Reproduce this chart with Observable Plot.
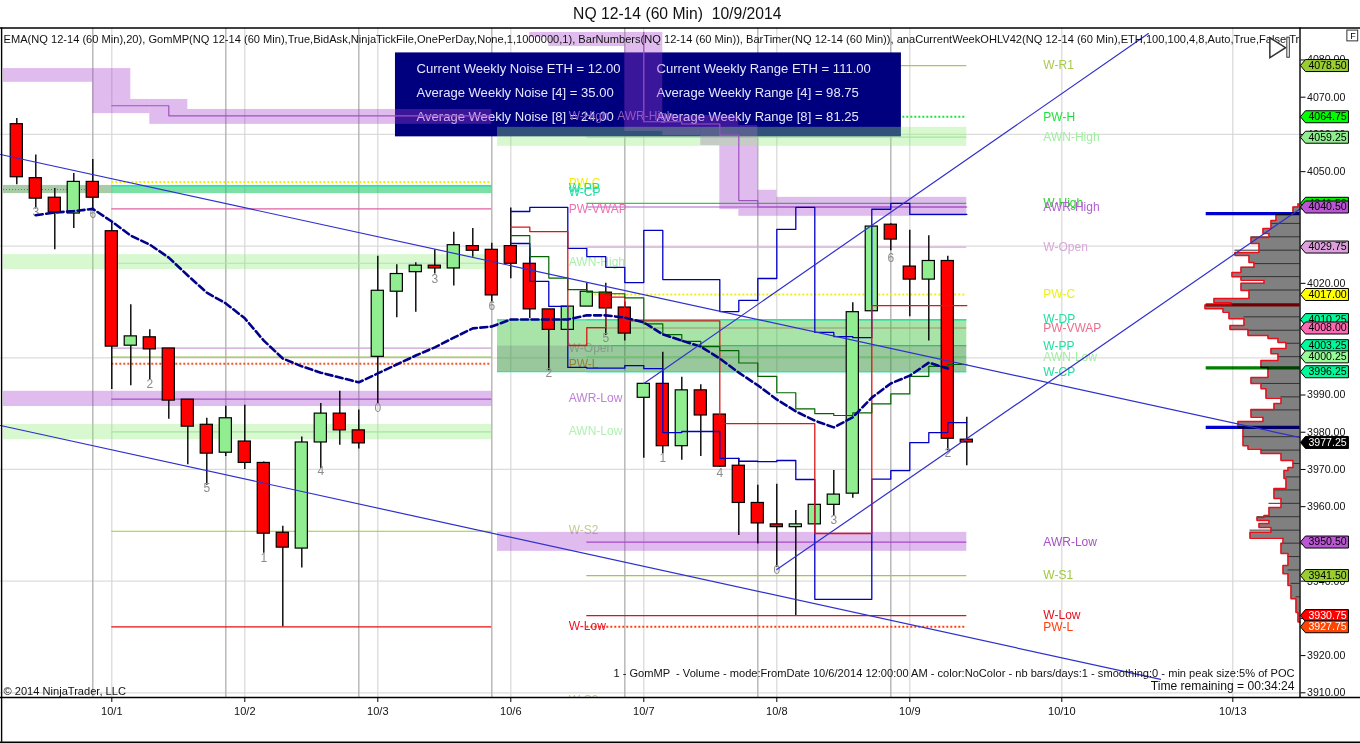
<!DOCTYPE html>
<html><head><meta charset="utf-8">
<script src="https://cdn.jsdelivr.net/npm/d3@7"></script>
<script src="https://cdn.jsdelivr.net/npm/@observablehq/plot@0.6"></script>
<style>html,body{margin:0;padding:0;background:#fff}svg{display:block}</style>
</head><body><div id="chart"></div>
<script>
// ---------- candles (60 min bars, bar index = array position)
const opens=[4062.75,4048.25,4043,4038.75,4047.25,4034,4003.25,4005.5,4002.5,3988.75,3982,3974.5,3977.5,3971.75,3953,3948.75,3977.25,3985,3980.5,4000.25,4017.75,4023,4024.75,4024,4030,4029,4030,4025.25,4013,4007.5,4013.75,4017.5,4013.5,3989.25,3993,3976.25,3991.25,3984.75,3971,3961,3955.25,3954.5,3955.25,3960.5,3963.5,4012.5,4035.75,4024.5,4021,4026,3978];
const highs=[4064.25,4054.5,4045.5,4049.5,4053.25,4036.5,4014.25,4007.5,4002.5,3988.75,3983.75,3987,3987.25,3972,3954.75,3978.75,3987.75,3991,3986,4027.25,4025,4025.5,4029,4033.75,4034.75,4030.75,4040.25,4029.5,4013,4013.75,4020,4020,4015,3993,4001.5,3994.75,3992.75,3984.75,3973,3965.75,3966,3959,3960.5,3969.75,4014.75,4035.25,4036,4034.25,4032.75,4027.25,3984];
const lows=[4046.5,4040,4029,4034.75,4040,3991.5,3992.5,3994,3983.5,3971.25,3965.75,3973.5,3970,3947.5,3927.75,3943.5,3970.25,3976.5,3975.5,3987.75,4010.75,4012.25,4022.5,4019.25,4027,4014.75,4021.25,4010.5,3996.5,4007.5,4013.75,4006,4004.5,3973,3974.25,3972.5,3973.5,3970.5,3952.25,3950,3943.75,3930.75,3955.25,3957.5,3962.25,4012.5,4028.75,4011,4004.5,3975,3971];
const closes=[4048.5,4042.75,4039,4047.25,4043,4003,4005.75,4002.25,3988.5,3981.5,3974.25,3983.75,3971.75,3952.75,3949,3977.25,3985,3980.5,3977,4018,4022.5,4024.75,4024,4030.25,4028.75,4016.75,4025.25,4013,4007.5,4013.75,4017.75,4013.25,4006.5,3993,3976.25,3991.25,3984.5,3970.75,3961,3955.5,3954.5,3955.25,3960.5,3963.25,4012.25,4035.25,4031.75,4021,4026,3978.25,3977.25];
// ---------- EMA(20), from bar 1 to bar 49
const ema=[4038.3,4039,4039.4,4040,4036.6,4032.8,4030.4,4026.9,4022.1,4017.5,4014.6,4010.6,4004.6,3999.8,3997.7,3996,3994.7,3993.4,3995.8,3998.2,4000.6,4002.8,4005.4,4007.9,4008.4,4010.3,4010.3,4010.3,4010.3,4011.4,4011.4,4010.8,4009.5,4006.3,4004.6,4003,3999.8,3996,3992.6,3988.8,3985.6,3983.1,3981.3,3984,3989.3,3993.1,3995.2,3998.7,3997.1];
// ---------- GomMP developing levels, bar 26 to bar 50
const vah=[4039.3,4040.4,4040.4,4029.4,4027.2,4024.3,4020.2,4034.2,4021,4021,4021,4012.4,4015.4,4021.3,4034.5,4040.4,4006.8,4005.7,4005.4,4039.9,4041.5,4038.5,4038.5,4038.5,4038.5];
const val=[4030.7,4020.5,4013.8,3997.4,3997.2,3997.2,3997.9,3997.1,3979.9,3980.2,3980.2,3973,3972.2,3972.1,3972.4,3967.3,3935.1,3935.1,3935.1,3967.4,3969.7,3977.2,3979.9,3982.6,3982.6];
const poc=[4035.1,4033.9,4033.9,4003.3,4008.1,4016.3,4009.9,4009.9,4009.9,4009.9,4009.9,3982.3,3982.3,3982.3,3982.3,3982.3,3952.8,3952.8,3952.8,4014,4014,4014,4014,4014,4014];
const vwapStep=[4032.8,4027.2,4021.4,4018.3,4017.6,4017.2,4016.1,4009.1,4006.2,4004.4,4003,4001.9,3998.6,3995,3990.6,3986.3,3985,3984.5,3985.2,3987.6,3990.3,3995,3997.7,3998.2,3998.2];
// ---------- bar numbers
const numberBars=[1,4,7,10,13,16,19,22,25,28,31,34,37,40,43,46,49];
const numberText=["3","6","2","5","1","4","0","3","6","2","5","1","4","0","3","6","2"];
const numberPrice=[4039.25,4038.5,3993,3965,3946.25,3969.5,3986.5,4021.25,4014,3995.75,4005.25,3973,3969,3943,3956.25,4026.75,3974.25];
// ---------- trend lines: [bar, price, bar, price]
const trendLines=[[-0.858,4054.6,67.51,3978.6],[-0.858,3981.8,60.2,3913.6],[40,3943.1,67.51,4039.9],[33,3993.1,59.56,4087.1]];
// ---------- axes
const priceTicks=[3910,3920,3930,3940,3950,3960,3970,3980,3990,4000,4010,4020,4030,4040,4050,4060,4070,4080];
const priceGrid=[3910,3940,3970,4000,4030,4060];
const dateBars=[5,12,19,26,33,40,47,55,64];
const dateLabels=["10/1","10/2","10/3","10/6","10/7","10/8","10/9","10/10","10/13"];
const sessionBars=[4,11,18,25,32,39,46];
// ---------- shaded zones [bar1, bar2, priceTop, priceBottom]
const purpleZones=[[-0.7,4,4077.7,4074],[4,6,4077.7,4069.4],[4,7,4069.4,4065.6],[7,9,4069.4,4066.7],[7,25,4066.7,4062.7],[27,28,4087.4,4086],[28,32,4087.4,4083.6],[32,34,4087.4,4060.8],[34,36,4065.1,4059.7],[36,37,4065.1,4057],[37,38,4065.1,4039.8],[38,39,4062.4,4038],[39,40,4045,4038],[40,50,4043.1,4038],[-0.7,25,3991,3986.9],[25.3,50,3953.1,3948]];
const paleZones=[[-0.7,25,4027.7,4023.7],[-0.7,25,3982.1,3978],[25.3,50,4061.9,4056.8]];
const noiseUpper=[[25.3,50,4010.2,4003.2]];
const noiseLower=[[25.3,50,4003.2,3996.3]];
const priorGrey=[[-0.7,5,4046.3,4044.1]];
const priorTeal=[[5,25,4046.3,4044.1]];
// ---------- AWR stepped lines, [bar, price]
const awrFirstBars=[5,8,8,25];
const awrFirstPrice=[4067.7,4067.7,4065,4065];
const awrSecondBars=[33,33,35,35,37,37,38,38,39,39,50];
const awrSecondPrice=[4087.4,4063.4,4063.4,4062.8,4062.8,4059.8,4059.8,4042.2,4042.2,4040.5,4040.5];
// ---------- first-week levels (bars 5..25)
const w1Levels=[4047.2,4046.2,4040,4025.4,4002.6,4000.2,3998.4,3988.9,3980.1,3953.4,3927.7];
const w1Colors=["#f4f000","#20d8c0","#e060a0","#a8e8a8","#c8a0d0","#a0c050","#ff5020","#a050c0","#a0e8a0","#9acd32","#e01010"];
const w1Dotted=[true,false,false,false,false,false,true,false,false,false,false];
// ---------- current-week levels and right-hand labels (bars 30..50)
const w2Names=["W-R1","PW-H","AWN-High","W-High","AWR-High","W-Open","PW-C","W-DP","PW-VWAP","W-PP","AWN-Low","W-CP","AWR-Low","W-S1","W-Low","PW-L"];
const w2Levels=[4078.5,4064.75,4059.25,4041.5,4040.5,4029.75,4017,4010.25,4008,4003.25,4000.25,3996.25,3950.5,3941.5,3930.75,3927.75];
const w2Colors=["#a8c850","#20e040","#a0eea0","#30d030","#b060d0","#d8a8d8","#f0f010","#20e0a0","#e87090","#20e0a0","#a0eea0","#20e0a0","#a850c8","#a0c840","#e01020","#ff4010"];
const w2Dotted=[false,true,false,false,false,false,true,false,false,false,false,false,false,false,false,true];
// ---------- mid-chart labels
const midNames=["PW-C","W-PP","W-CP","PW-VWAP","W-High","AWN-High","W-Open","PW-L","AWR-Low","AWN-Low","W-S2","W-Low","W-S3"];
const midPrices=[4046.8,4045.7,4044.4,4039.8,4064.8,4025.6,4002.5,3998.2,3989.1,3980.2,3953.6,3927.8,3908];
const midColors=["#f0f010","#20e0a0","#20e0a0","#f070b0","#9060c0","#a8f0a8","#d8a8d8","#ff7020","#c080d8","#b0f0b0","#c0cc90","#f01020","#c0cc90"];
// ---------- price tags
const tagPrices=[4078.5,4064.75,4059.25,4041.5,4040.5,4029.75,4017,4010.25,4008,4003.25,4000.25,3996.25,3977.25,3950.5,3941.5,3930.75,3927.75];
const tagColors=["#9acd32","#00ff00","#90ee90","#00ee00","#ba55d3","#dda0dd","#ffff00","#00fa9a","#ff69b4","#00fa9a","#98fb98","#00fa9a","#000000","#ba55d3","#9acd32","#ff0000","#ff4500"];
const tagInk=["#000","#000","#000","#000","#000","#000","#000","#000","#000","#000","#000","#000","#fff","#000","#000","#fff","#fff"];
// ---------- volume profile
const profilePrice=[4041.4,4040.5,4038.5,4036.9,4034.7,4033.4,4032.3,4030.7,4028.3,4027.5,4025.6,4024.3,4022.9,4021.8,4020.8,4020,4018.1,4015.9,4014.8,4014.2,4013.2,4012.2,4010.5,4008.7,4007.6,4006,4005.2,4004.1,4002.5,4001.1,3999.3,3997.4,3994.7,3993.1,3991.7,3989.1,3987.7,3986.1,3984,3982.9,3981.3,3978.6,3976.4,3975.4,3974.3,3972.4,3970.5,3969.7,3967.6,3964.9,3962.2,3959.8,3957.6,3957.1,3956.3,3955.5,3954.4,3953.1,3951.5,3950.1,3947.4,3944.2,3942,3938.8,3935.3,3931.6,3929];
const profileVolume=[2,7,24,29,37,31,49,41,65,51,46,59,68,59,36,59,51,86,69,95,77,71,56,70,52,32,22,14,29,22,39,32,49,39,34,19,26,49,37,62,57,57,52,39,19,7,12,16,14,26,19,31,36,43,31,41,29,50,17,19,12,17,12,9,4,2,0];
const profileStripes=[4036.1,4032.5,4028.9,4025.3,4021.8,4018.2,4011,4007.4,4003.9,4000.3,3993.1,3989.5,3986,3978.8,3975.2,3971.6,3968,3964.5,3960.9,3957.3,3953.7,3950.2,3946.6,3943,3939.4,3935.8];
const peakPrices=[4038.7,4014.2,3997.3,3981.3];
const peakColors=["#0000d0","#e00000","#008000","#0000d0"];
// ---------- texts
const boxLeft=["Current Weekly Noise ETH = 12.00","Average Weekly Noise [4] = 35.00","Average Weekly Noise [8] = 24.00"];
const boxRight=["Current Weekly Range ETH = 111.00","Average Weekly Range [4] = 98.75","Average Weekly Range [8] = 81.25"];
const boxPrices=[4077.6,4071.2,4064.8];
const titleText="NQ 12-14 (60 Min)  10/9/2014";
const indicatorText="EMA(NQ 12-14 (60 Min),20), GomMP(NQ 12-14 (60 Min),True,BidAsk,NinjaTickFile,OnePerDay,None,1,1000000,1), BarNumbers(NQ 12-14 (60 Min)), BarTimer(NQ 12-14 (60 Min)), anaCurrentWeekOHLV42(NQ 12-14 (60 Min),ETH,100,100,4,8,Auto,True,False,Tr";
const footerText="1 - GomMP  - Volume - mode:FromDate 10/6/2014 12:00:00 AM - color:NoColor - nb bars/days:1 - smoothing:0 - min peak size:5% of POC";
const timerText="Time remaining = 00:34:24";

// ---------- tables built from the arrays
const bars=opens.map((o,i)=>({i,o,h:highs[i],l:lows[i],c:closes[i]}));
const seq=(a,s)=>a.map((v,k)=>({b:s+k,v}));
const zone=z=>({x1:z[0],x2:z[1],y1:z[2],y2:z[3]});
const axisBar=67.5368, volPerBar=19;
const prof=profilePrice.map((p,k)=>({p,x:axisBar-profileVolume[k]/volPerBar}));
const profileEdge=p=>{let best=prof[0];for(const d of prof)if(Math.abs(d.p-p)<Math.abs(best.p-p))best=d;return best.x;};
const FONT="'Liberation Sans',Arial,sans-serif";
const tagSymbol={draw(c){c.moveTo(0,0);c.lineTo(5,-6);c.lineTo(48,-6);c.lineTo(48,6);c.lineTo(5,6);c.closePath();}};
const triSymbol={draw(c){c.moveTo(0,-10);c.lineTo(15.7,0);c.lineTo(0,10);c.closePath();}};
const zoneMark=(list,fill,op)=>Plot.rect(list.map(zone),{x1:"x1",x2:"x2",y1:"y1",y2:"y2",fill,fillOpacity:op});
const levelMarks=(levels,colors,dotted,x1,x2)=>{
  const rows=levels.map((v,k)=>({v,c:colors[k],d:dotted[k]}));
  return [
    Plot.ruleY(rows.filter(r=>!r.d),{y:"v",x1,x2,stroke:"c",strokeWidth:1.2}),
    Plot.ruleY(rows.filter(r=>r.d),{y:"v",x1,x2,stroke:"c",strokeWidth:2,strokeDasharray:"2,2"})
  ];
};

const marks=[
  // grid
  Plot.ruleY(priceGrid,{stroke:"#dcdcdc",strokeWidth:1.2}),
  Plot.ruleX(dateBars,{stroke:"#d8d8d8",strokeWidth:1.2}),
  Plot.ruleX(sessionBars,{stroke:"#b4b4b4",strokeWidth:1.4}),
  // current week levels hidden by the navy box
  ...levelMarks(w2Levels,w2Colors,w2Dotted,30,50),
  // navy info box
  Plot.rect([0],{x1:19.93,x2:46.56,y1:4081.9,y2:4059.35,fill:"#00007f"}),
  Plot.text(boxLeft.map((t,k)=>({t,p:boxPrices[k]})),{x:21.04,y:"p",text:"t",fill:"#e6e6ff",fontSize:13.05,textAnchor:"start"}),
  Plot.text(boxRight.map((t,k)=>({t,p:boxPrices[k]})),{x:33.67,y:"p",text:"t",fill:"#e6e6ff",fontSize:13.05,textAnchor:"start"}),
  // labels sitting under the zones
  Plot.text(midNames.map((t,k)=>({t,k,p:midPrices[k]})),{x:29.05,y:"p",text:"t",fill:d=>midColors[d.k],fontSize:12,textAnchor:"start"}),
  Plot.text(["AWR-High"],{x:31.6,y:4064.8,fill:"#9060c0",fontSize:12,textAnchor:"start"}),
  Plot.text(w2Names.map((t,k)=>({t,k,p:w2Levels[k]})),{x:54.03,y:"p",text:"t",fill:d=>w2Colors[d.k],fontSize:12,textAnchor:"start"}),
  Plot.rect([0],{x1:-0.858,x2:71,y1:3908.74,y2:3896,fill:"white"}),
  // zones
  zoneMark(purpleZones,"#a640ce",0.35),
  zoneMark(paleZones,"#90eb79",0.35),
  zoneMark(noiseUpper,"#3ec33e",0.45),
  zoneMark(noiseLower,"#31913a",0.5),
  zoneMark(priorGrey,"#519951",0.5),
  zoneMark(priorTeal,"#21cb67",0.6),
  Plot.ruleY([4010.2,3996.3],{x1:25.3,x2:50,stroke:"#30e0b0",strokeWidth:1.3}),
  // first week levels
  ...levelMarks(w1Levels,w1Colors,w1Dotted,5,25),
  Plot.ruleY([4045.2],{x1:-0.7,x2:4,stroke:"#5a8a5a",strokeDasharray:"1,2"}),
  Plot.line(awrFirstBars.map((b,k)=>({b,v:awrFirstPrice[k]})),{x:"b",y:"v",stroke:"#a050c0",strokeWidth:1.2}),
  Plot.line(awrSecondBars.map((b,k)=>({b,v:awrSecondPrice[k]})),{x:"b",y:"v",stroke:"#a050c0",strokeWidth:1.2}),
  // candles
  Plot.ruleX(bars,{x:"i",y1:"l",y2:"h",stroke:"#000",strokeWidth:1.4}),
  Plot.rect(bars,{x1:d=>d.i-0.32,x2:d=>d.i+0.32,y1:"o",y2:"c",fill:d=>d.c<d.o?"#ff0000":"#90ee90",stroke:"#000",strokeWidth:1.2}),
  // steps
  Plot.line(seq(vah,26),{x:"b",y:"v",curve:"step-after",stroke:"#0000c0",strokeWidth:1.3}),
  Plot.line(seq(val,26),{x:"b",y:"v",curve:"step-after",stroke:"#0000c0",strokeWidth:1.3}),
  Plot.line(seq(poc,26),{x:"b",y:"v",curve:"step-after",stroke:"#d81818",strokeWidth:1.3}),
  Plot.line(seq(vwapStep,26),{x:"b",y:"v",curve:"step-after",stroke:"#006400",strokeWidth:1.2}),
  // bar numbers
  Plot.text(numberBars.map((b,k)=>({b,t:numberText[k],p:numberPrice[k]})),{x:"b",y:"p",text:"t",fill:"#8c8c8c",fontSize:12}),
  // EMA
  Plot.line(seq(ema,1),{x:"b",y:"v",stroke:"#00008b",strokeWidth:2.6,strokeDasharray:"7,3.5"}),
  // volume profile
  Plot.areaX(prof,{y:"p",x1:axisBar,x2:"x",curve:"step-before",fill:"#808080"}),
  Plot.ruleY(profileStripes,{x1:axisBar,x2:d=>profileEdge(d),stroke:"#333",strokeWidth:1}),
  Plot.lineX(prof,{x:"x",y:"p",curve:"step-before",stroke:"#e8101a",strokeWidth:1.5}),
  Plot.ruleY(peakPrices.map((p,k)=>({p,k})),{y:"p",x1:62.6,x2:axisBar,stroke:d=>peakColors[d.k],strokeWidth:3.2,mixBlendMode:"multiply"}),
  // trend lines
  ...trendLines.map(t=>Plot.line([[t[0],t[1]],[t[2],t[3]]],{stroke:"#3030cc",strokeWidth:1.2})),
  // fixed texts
  Plot.text([titleText],{frameAnchor:"top",lineAnchor:"middle",dx:27,dy:-14,fontSize:15.7,fill:"#111"}),
  Plot.text([indicatorText],{frameAnchor:"top-left",lineAnchor:"middle",dx:3,dy:11.5,fontSize:11.1,fill:"#111",textAnchor:"start"}),
  Plot.text(["© 2014 NinjaTrader, LLC"],{frameAnchor:"bottom-left",lineAnchor:"middle",dx:3,dy:-6,fontSize:11.1,fill:"#111",textAnchor:"start"}),
  Plot.text([footerText],{x:67.25,y:3915.2,fontSize:11.1,fill:"#111",textAnchor:"end"}),
  Plot.text([timerText],{x:67.25,y:3911.7,fontSize:12.1,fill:"#111",textAnchor:"end"}),
  // axes
  Plot.axisY({anchor:"right",ticks:priceTicks,tickFormat:d=>d.toFixed(2),tickSize:5,tickPadding:2,label:null,fontSize:10.6,stroke:"#000"}),
  Plot.axisX({anchor:"bottom",ticks:dateBars,tickFormat:d=>dateLabels[dateBars.indexOf(d)],tickSize:5,tickPadding:5,label:null,fontSize:11,stroke:"#000"}),
  // price tags, one after the other so later ones cover earlier ones
  ...tagPrices.flatMap((p,k)=>[
    Plot.dot([p],{x:67.56,y:d=>d,symbol:tagSymbol,fill:tagColors[k],stroke:"#000",strokeWidth:1}),
    Plot.text([p],{x:67.56,y:d=>d,text:d=>d.toFixed(2),dx:8,fill:tagInk[k],fontSize:10.6,textAnchor:"start"})
  ]),
  // chart frame
  Plot.ruleY([4088.59,3908.74,3896.7],{x1:-0.858,x2:70.75,stroke:"#000",strokeWidth:1.4}),
  Plot.ruleX([-0.8],{y1:4088.59,y2:3896.7,stroke:"#000",strokeWidth:1.4}),
  Plot.ruleX([axisBar],{y1:4088.59,y2:3908.74,stroke:"#000",strokeWidth:1.4}),
  // chart controls
  Plot.dot([0],{x:65.95,y:4083.3,symbol:triSymbol,fill:"white",stroke:"#333"}),
  Plot.rect([0],{x1:66.87,x2:67,y1:4086,y2:4080.6,fill:"white",stroke:"#333"}),
  Plot.rect([0],{x1:70.03,x2:70.6,y1:4087.9,y2:4085,fill:"white",stroke:"#333"}),
  Plot.text(["F"],{x:70.32,y:4086.4,fontSize:9,fill:"#000"})
];

const chart=Plot.plot({
  width:1360,height:743,marginLeft:0,marginRight:60.5,marginTop:27.5,marginBottom:46,
  style:{fontFamily:FONT,background:"#fff",color:"#111",overflow:"visible"},
  x:{domain:[-0.8579,axisBar],axis:null},
  y:{domain:[3908.74,4088.59],axis:null},
  color:{type:"identity"},
  marks
});
document.getElementById("chart").append(chart);
</script></body></html>
